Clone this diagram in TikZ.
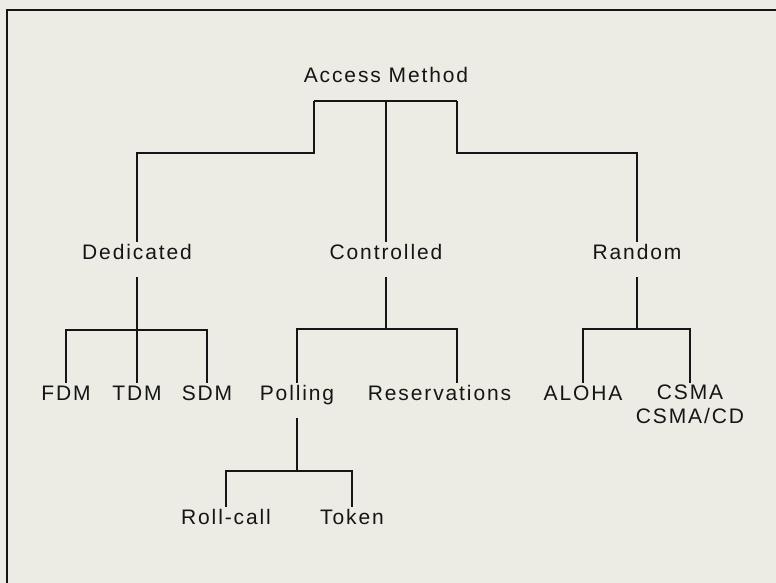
\documentclass[tikz,border=0pt]{standalone}
\usepackage{fontspec}
\newfontfamily\diagfont{Liberation Sans}[LetterSpace=9]
\usepackage{xcolor}
\usepackage{tikz}

\definecolor{paper}{HTML}{ECECE5}
\definecolor{ink}{HTML}{151515}

\begin{document}
\begin{tikzpicture}[
    x=0.5pt, y=-0.5pt,
    % --- node styles ---
    term/.style={anchor=base, inner xsep=1pt, inner ysep=0.5pt,
        text height=7.6pt, text depth=2.5pt, text=ink,
        font=\diagfont\fontsize{10.5}{12}\selectfont},
    stack/.style={anchor=north, inner xsep=1pt, inner ysep=0.5pt,
        align=center, text=ink,
        font=\diagfont\fontsize{10.5}{12}\selectfont},
    % --- line styles ---
    link/.style={draw=ink, line width=1.1pt},
    frame/.style={draw=ink, line width=1.3pt}
]

%%% ================= PAGE =================
\useasboundingbox (0,0) rectangle (776,583);
\fill [paper] (0,0) rectangle (776,583);
\draw [frame] (7,583) -- (7,10) -- (776,10);

%%% ================= ROW 0: ROOT =================
\node (root) [term] at (386,83) {Access Method};
\coordinate (rootJ) at (386,101);
\coordinate (rootL) at (314,101);
\coordinate (rootR) at (457,101);

%%% ================= ROW 1: THREE KINDS =================
\node (ded) [term] at (137,259) {Dedicated};
\node (ctl) [term] at (386,259) {Controlled};
\node (rnd) [term] at (637,259) {Random};
\coordinate (dedBar) at (137,153);
\coordinate (rndBar) at (637,153);

%%% ================= ROW 2: METHODS =================
\node (fdm)   [term] at (66,400)    {FDM};
\node (tdm)   [term] at (137,400)   {TDM};
\node (sdm)   [term] at (207,400)   {SDM};
\node (pol)   [term] at (297,400)   {Polling};
\node (res)   [term] at (439.5,400) {Reservations};
\node (aloha) [term] at (583,400)   {ALOHA};
\node (csma)  [stack] at (690,383)  {CSMA\\CSMA/CD};
\coordinate (dedJ) at (137,330);
\coordinate (ctlJ) at (386,329);
\coordinate (rndJ) at (637,329);

%%% ================= ROW 3: POLLING =================
\node (roll)  [term] at (226,524) {Roll-call};
\node (token) [term] at (352,524) {Token};
\coordinate (polJ) at (297,471);

%%% ================= LINES =================
%% Root bracket
\draw [link] (rootL) -- (rootR);
\draw [link] (rootJ) -- (ctl);
\draw [link] (rootL) |- (dedBar) -- (ded);
\draw [link] (rootR) |- (rndBar) -- (rnd);

%% Dedicated
\draw [link] ([yshift=-6pt]ded.south) -- (dedJ);
\draw [link] (dedJ) -| (fdm);
\draw [link] (dedJ) -- (tdm);
\draw [link] (dedJ) -| (sdm);

%% Controlled
\draw [link] ([yshift=-6pt]ctl.south) -- (ctlJ);
\draw [link] (ctlJ) -| (pol);
\draw [link] (ctlJ) -| ([xshift=8.75pt]res.north);

%% Random
\draw [link] ([yshift=-6pt]rnd.south) -- (rndJ);
\draw [link] (rndJ) -| (aloha);
\draw [link] (rndJ) -| (csma);

%% Polling
\draw [link] ([yshift=-6pt]pol.south) -- (polJ);
\draw [link] (polJ) -| (roll);
\draw [link] (polJ) -| (token);

\end{tikzpicture}
\end{document}
